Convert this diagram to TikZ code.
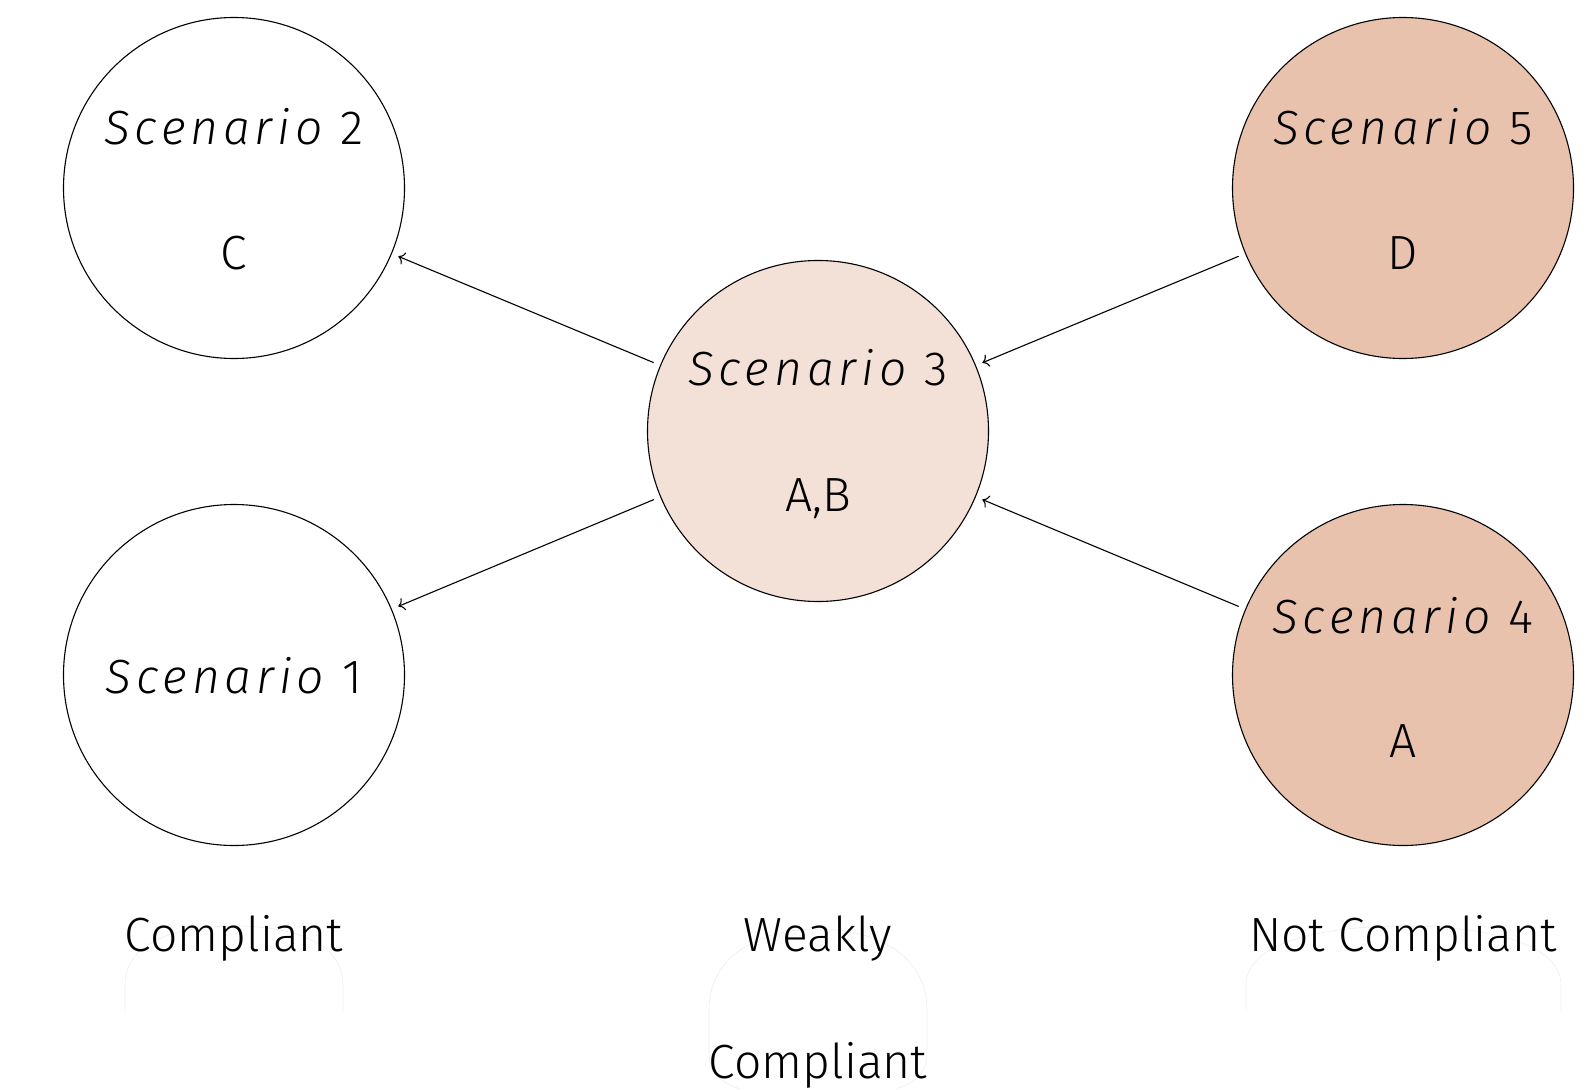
\documentclass[tikz,border=0pt]{standalone}
\usepackage{fontspec}
\setmainfont{Fira Sans Light}[ItalicFont=Fira Sans Light Italic]
\usetikzlibrary{arrows.meta}
\definecolor{lightfill}{RGB}{243,224,214}
\definecolor{darkfill}{RGB}{233,194,173}
\newcommand{\scn}{\textit{\addfontfeature{LetterSpace=10}Scenario}}
\tikzset{
  scen/.style={circle, draw=black, line width=1.1pt, minimum size=341pt, inner sep=0pt},
  txt/.style={anchor=base, inner sep=0pt, font=\fontsize{48}{58}\selectfont},
  link/.style={line width=1.1pt, -{To[length=6pt,width=13pt]}, shorten <=7pt, shorten >=7pt},
  faint/.style={draw=black!7, line width=0.6pt}
}
\begin{document}
\begin{tikzpicture}[x=1pt,y=-1pt]
\useasboundingbox (0,0) rectangle (1592,1089);
% faint background shapes
\draw[faint] (125,1010) -- (125,985) .. controls (125,940) and (180,926) .. (234,926) .. controls (288,926) and (343,940) .. (343,985) -- (343,1010);
\draw[faint] (1246,1010) -- (1246,985) .. controls (1246,940) and (1330,926) .. (1403,926) .. controls (1476,926) and (1561,940) .. (1561,985) -- (1561,1010);
\draw[faint] (740,1089) .. controls (715,1080) and (709,1070) .. (709,1050) -- (709,1010) .. controls (709,955) and (760,929) .. (818,929) .. controls (876,929) and (927,955) .. (927,1010) -- (927,1050) .. controls (927,1070) and (921,1080) .. (896,1089);
% circles
\node[scen] (s2) at (234,188) {};
\node[scen] (s1) at (234,675) {};
\node[scen, fill=lightfill] (s3) at (818,431) {};
\node[scen, fill=darkfill] (s5) at (1403,188) {};
\node[scen, fill=darkfill] (s4) at (1403,675) {};
% texts
\node[txt] (s2t) at (234,145) {\scn{} 2};
\node[txt] (s2c) at (234,269) {C};
\node[txt] (s1t) at (234,693) {\scn{} 1};
\node[txt] (s3t) at (818,385) {\scn{} 3};
\node[txt] (s3c) at (818,511) {A,B};
\node[txt] (s5t) at (1403,145) {\scn{} 5};
\node[txt] (s5c) at (1403,269) {D};
\node[txt] (s4t) at (1403,633) {\scn{} 4};
\node[txt] (s4c) at (1403,757) {A};
% bottom labels
\node[txt] (l1) at (234,951) {Compliant};
\node[txt] (l2a) at (818,951) {Weakly};
\node[txt] (l2b) at (818,1078) {Compliant};
\node[txt] (l3) at (1403,951) {Not Compliant};
% connectors
\draw[link] (s3) -- (s2);
\draw[link] (s3) -- (s1);
\draw[link] (s5) -- (s3);
\draw[link] (s4) -- (s3);
\end{tikzpicture}
\end{document}
